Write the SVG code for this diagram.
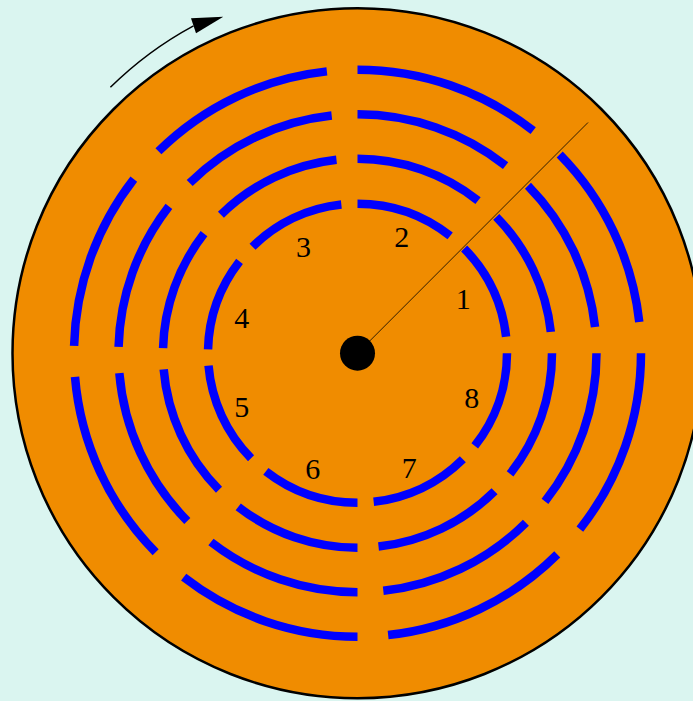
<svg xmlns="http://www.w3.org/2000/svg" width="693" height="701" viewBox="0 0 693 701">
<style>
.trk{fill:none;stroke:#0000ff;stroke-width:8.5;stroke-linecap:butt}
.lbl{font-family:"Liberation Serif","Times New Roman",serif;font-size:30px;fill:#000;text-anchor:middle}
</style>
<rect x="0" y="0" width="693" height="701" fill="#daf5f0"/>
<g id="disk">
<circle cx="357.5" cy="353.2" r="345" fill="#f08c00" stroke="#000" stroke-width="2.5"/>
</g>
<g id="track1" class="trk">
<path d="M506.10,336.80 A149.5,149.5 0 0 0 464.13,248.41"/>
<path d="M450.14,235.87 A149.5,149.5 0 0 0 357.5,203.70"/>
<path d="M341.35,204.57 A149.5,149.5 0 0 0 252.53,246.75"/>
<path d="M239.53,261.36 A149.5,149.5 0 0 0 208.05,349.29"/>
<path d="M208.52,365.71 A149.5,149.5 0 0 0 251.05,458.17"/>
<path d="M265.84,471.30 A149.5,149.5 0 0 0 357.5,502.70"/>
<path d="M373.65,501.83 A149.5,149.5 0 0 0 462.84,459.28"/>
<path d="M474.77,445.93 A149.5,149.5 0 0 0 507.00,353.20"/>
</g>
<g id="track2" class="trk">
<path d="M550.83,331.86 A194.5,194.5 0 0 0 496.23,216.87"/>
<path d="M478.03,200.54 A194.5,194.5 0 0 0 357.5,158.70"/>
<path d="M336.49,159.84 A194.5,194.5 0 0 0 220.93,214.71"/>
<path d="M204.02,233.72 A194.5,194.5 0 0 0 163.07,348.11"/>
<path d="M163.68,369.48 A194.5,194.5 0 0 0 219.01,489.77"/>
<path d="M238.25,506.85 A194.5,194.5 0 0 0 357.5,547.70"/>
<path d="M378.51,546.56 A194.5,194.5 0 0 0 494.55,491.21"/>
<path d="M510.07,473.84 A194.5,194.5 0 0 0 552.00,353.20"/>
</g>
<g id="track3" class="trk">
<path d="M595.06,326.97 A239,239 0 0 0 527.97,185.68"/>
<path d="M505.60,165.62 A239,239 0 0 0 357.5,114.20"/>
<path d="M331.69,115.60 A239,239 0 0 0 189.69,183.02"/>
<path d="M168.91,206.38 A239,239 0 0 0 118.58,346.94"/>
<path d="M119.34,373.20 A239,239 0 0 0 187.32,521.01"/>
<path d="M210.96,542.01 A239,239 0 0 0 357.5,592.20"/>
<path d="M383.31,590.80 A239,239 0 0 0 525.91,522.79"/>
<path d="M544.98,501.44 A239,239 0 0 0 596.50,353.20"/>
</g>
<g id="track4" class="trk">
<path d="M639.29,322.09 A283.5,283.5 0 0 0 559.71,154.49"/>
<path d="M533.18,130.69 A283.5,283.5 0 0 0 357.5,69.70"/>
<path d="M326.88,71.36 A283.5,283.5 0 0 0 158.44,151.34"/>
<path d="M133.80,179.05 A283.5,283.5 0 0 0 74.10,345.78"/>
<path d="M75.00,376.92 A283.5,283.5 0 0 0 155.64,552.26"/>
<path d="M183.68,577.16 A283.5,283.5 0 0 0 357.5,636.70"/>
<path d="M388.12,635.04 A283.5,283.5 0 0 0 557.26,554.36"/>
<path d="M579.88,529.04 A283.5,283.5 0 0 0 641.00,353.20"/>
</g>
<g id="labels">
<text class="lbl" x="463.3" y="309.3">1</text>
<text class="lbl" x="401.7" y="246.7">2</text>
<text class="lbl" x="303.5" y="256.7">3</text>
<text class="lbl" x="241.7" y="328.3">4</text>
<text class="lbl" x="241.7" y="416.7">5</text>
<text class="lbl" x="312.7" y="479.3">6</text>
<text class="lbl" x="409.3" y="478.3">7</text>
<text class="lbl" x="471.7" y="408.3">8</text>
</g>
<g id="head">
<line x1="357.5" y1="353.2" x2="588" y2="122.5" stroke="#000" stroke-width="0.8"/>
<circle cx="357.5" cy="353.2" r="17.5" fill="#000"/>
</g>
<g id="connectors">
<path d="M110.4,87.3 A363,363 0 0 1 193.5,25.8" fill="none" stroke="#000" stroke-width="1.5"/>
<polygon points="223.3,16.7 191,18.3 196,33.3" fill="#000"/>
</g>
</svg>
